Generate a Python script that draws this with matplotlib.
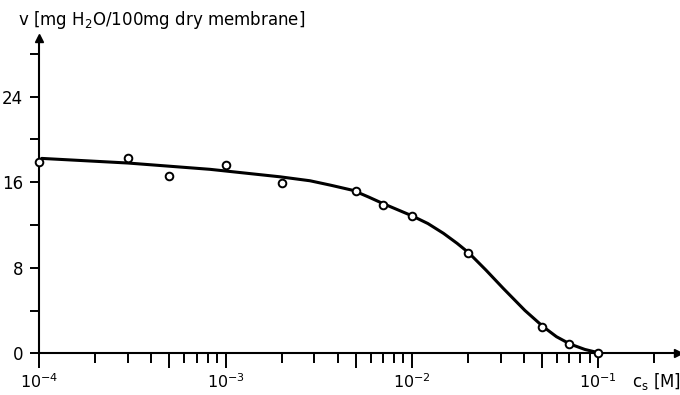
import matplotlib
matplotlib.use('Agg')

import matplotlib.pyplot as plt
import matplotlib.ticker as tkr

# measured points: salt concentration c_s [M] vs water uptake v
conc = [1e-4, 3e-4, 5e-4, 1e-3, 2e-3, 5e-3, 7e-3, 1e-2, 2e-2, 5e-2, 7e-2, 1e-1]
uptake = [17.9, 18.3, 16.6, 17.6, 15.9, 15.2, 13.9, 12.8, 9.4, 2.5, 0.87, 0.05]

# smooth hand-drawn curve
curve_x = [1.03e-4, 2.98e-4, 8.24e-4, 1.96e-3, 2.84e-3, 3.70e-3, 4.84e-3, 5.86e-3,
           7.0e-3, 1.0e-2, 1.22e-2, 1.48e-2, 1.75e-2, 2.02e-2, 2.50e-2, 3.10e-2,
           4.05e-2, 5.07e-2, 5.98e-2, 7.06e-2, 8.49e-2, 1.0e-1]
curve_y = [18.22, 17.79, 17.2, 16.5, 16.13, 15.70, 15.23, 14.61,
           14.0, 12.86, 12.13, 11.21, 10.28, 9.40, 7.78, 6.06,
           4.0, 2.49, 1.55, 0.87, 0.36, 0.06]

y_major = [0, 8, 16, 24]
y_minor = [4, 12, 20, 28]
x_major = [1e-4, 5e-4, 1e-3, 5e-3, 1e-2, 5e-2, 1e-1]

plt.rcParams['font.family'] = ['DejaVu Sans']

fig = plt.figure(figsize=(6.8, 3.95), dpi=100)
ax = fig.add_axes([0.0578, 0.1056, 0.939, 0.798])

ax.plot(curve_x, curve_y, color='black', lw=2.2, solid_joinstyle='round',
        solid_capstyle='round', zorder=2)
ax.plot(conc, uptake, 'o', ms=5.5, mfc='white', mec='black', mew=1.4,
        zorder=3, clip_on=False)

ax.set_xscale('log')
ax.set_xlim(1e-4, 0.268)
ax.set_ylim(0, 29.47)

for s in ['top', 'right']:
    ax.spines[s].set_visible(False)
for s in ['left', 'bottom']:
    ax.spines[s].set_linewidth(1.5)

# arrow heads on the axes
ax.plot(1, 0, '>', color='black', ms=6, transform=ax.transAxes, clip_on=False)
ax.plot(0, 1, '^', color='black', ms=6, transform=ax.transAxes, clip_on=False)

ax.xaxis.set_major_locator(tkr.FixedLocator(x_major))
ax.xaxis.set_major_formatter(tkr.LogFormatterSciNotation(labelOnlyBase=True))
ax.xaxis.set_minor_locator(tkr.LogLocator(base=10, subs=[2, 3, 4, 6, 7, 8, 9]))
ax.xaxis.set_minor_formatter(tkr.NullFormatter())
ax.tick_params(axis='x', which='major', length=10.5, width=1.4, pad=3, labelsize=11.5)
ax.tick_params(axis='x', which='minor', length=7, width=1.4)

ax.yaxis.set_major_locator(tkr.FixedLocator(y_major))
ax.yaxis.set_minor_locator(tkr.FixedLocator(y_minor))
ax.tick_params(axis='y', which='both', length=6.5, width=1.4, pad=5, labelsize=12)

fig.text(18 / 680, 1 - 25 / 395, 'v [mg H$_2$O/100mg dry membrane]',
         fontsize=12, ha='left', va='baseline')
fig.text(632 / 680, 1 - 387 / 395, 'c$_\\mathrm{s}$ [M]',
         fontsize=12, ha='left', va='baseline')

fig.savefig('out.png', dpi=100)
